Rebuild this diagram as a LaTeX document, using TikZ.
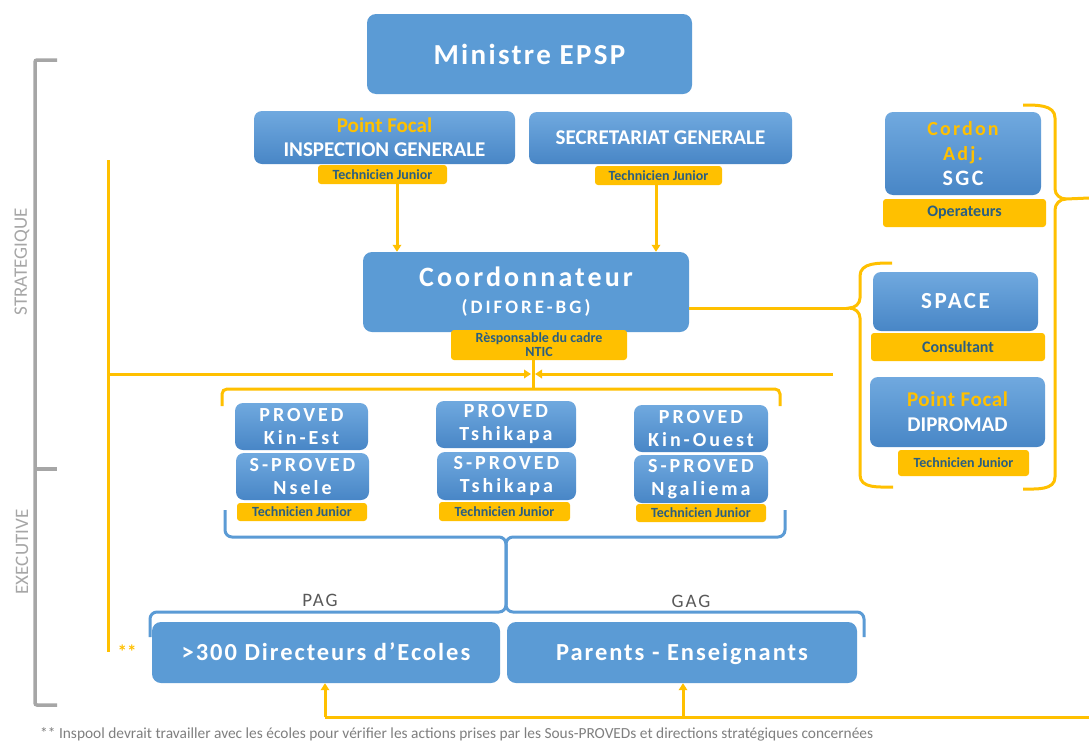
\documentclass[tikz,border=0pt]{standalone}
\usepackage{fontspec}
\setmainfont{Carlito}
\newfontfamily\calfam{Carlito}
\newcommand\lsp[1]{\addfontfeatures{LetterSpace=#1}}
\newcommand\fs[2]{\fontsize{#1}{#2}\selectfont}
\usetikzlibrary{arrows.meta}
\definecolor{bl}{HTML}{5B9BD5}
\definecolor{blT}{HTML}{70A9DF}
\definecolor{blB}{HTML}{4886C6}
\definecolor{yl}{HTML}{FFC000}
\definecolor{tagtxt}{HTML}{2A5E80}
\definecolor{gr}{HTML}{A6A6A6}
\definecolor{grtxt}{HTML}{595959}
\definecolor{foot}{HTML}{7F7F7F}
\begin{document}
\begin{tikzpicture}[x=1pt,y=-1pt,
  flatbox/.style={rounded corners=9pt, fill=bl, text=white, inner sep=0pt, align=center},
  gradbox/.style={rounded corners=8pt, top color=blT, bottom color=blB, draw=none, text=white, inner sep=0pt, align=center},
  tagbox/.style={rounded corners=3pt, fill=yl, text=tagtxt, inner sep=0pt, align=center, font=\calfam\bfseries\fs{14}{14}},
  bigtag/.style={tagbox, font=\calfam\bfseries\fs{16}{16}},
  yline/.style={draw=yl, line width=3pt},
  yarr/.style={yline, -{Triangle[length=7pt,width=8.5pt]}},
  bline/.style={draw=bl, line width=3pt},
  gline/.style={draw=gr, line width=3.5pt},
  provedfont/.style={font=\calfam\bfseries\fs{20}{23}\lsp{15}},
  bottomtext/.style={font=\calfam\bfseries\fs{24.5}{26}\lsp{8}, text height=18pt, text depth=2pt},
]
\useasboundingbox (0,0) rectangle (1089,742);
\fill[white] (0,0) rectangle (1089,742);

% left gray bracket
\draw[gline, rounded corners=2pt] (57,60) -- (35,60) -- (35,705) -- (57,705);
\draw[gline] (35,469) -- (57,469);
\node[rotate=90, text=gr, font=\calfam\fs{19}{19}] (strat) at (22,262) {STRATEGIQUE};
\node[rotate=90, text=gr, font=\calfam\fs{19}{19}] (exec) at (22,552) {EXECUTIVE};

% top boxes
\node[flatbox, minimum width=325pt, minimum height=80pt, font=\calfam\bfseries\fs{29}{32}\lsp{8}] (min) at (529.5,54) {Ministre EPSP};
\node[gradbox, minimum width=261pt, minimum height=53pt, font=\calfam\bfseries\fs{21}{24}] (ig) at (384.5,137.5) {\textcolor{yl}{Point Focal}\\INSPECTION GENERALE};
\node[tagbox, minimum width=129pt, minimum height=19pt] (igtag) at (382.5,174.5) {Technicien Junior};
\node[gradbox, minimum width=263pt, minimum height=52pt, font=\calfam\bfseries\fs{21}{24}] (sg) at (660.5,138) {SECRETARIAT GENERALE};
\node[tagbox, minimum width=127pt, minimum height=19pt] (sgtag) at (658.5,175.5) {Technicien Junior};

% coordonnateur
\node[flatbox, minimum width=326pt, minimum height=80pt, font=\calfam\bfseries\fs{28}{27}] (coord) at (526,292)
  {{\lsp{11}Coordonnateur}\\{\fs{19}{27}\lsp{16}(DIFORE-BG)}};
\node[tagbox, minimum width=176pt, minimum height=30pt] (coordtag) at (539,345) {Rèsponsable du cadre\\NTIC};

% right column
\node[gradbox, minimum width=156pt, minimum height=83pt, font=\calfam\bfseries\fs{20}{25}\lsp{11}] (sgc) at (963,153.5)
  {\textcolor{yl}{Cordon}\\\textcolor{yl}{Adj.}\\{\fs{22}{25}SGC}};
\node[bigtag, minimum width=163pt, minimum height=28pt] (optag) at (964.5,213) {Operateurs};
\node[gradbox, minimum width=165pt, minimum height=59pt, font=\calfam\bfseries\fs{23}{25}\lsp{11}] (space) at (955.5,301.5) {SPACE};
\node[bigtag, minimum width=174pt, minimum height=28pt] (constag) at (958,347) {Consultant};
\node[gradbox, minimum width=175pt, minimum height=70pt, font=\calfam\bfseries\fs{21}{25}] (dip) at (957.5,412)
  {\textcolor{yl}{\lsp{3}Point Focal}\\DIPROMAD};
\node[tagbox, minimum width=131pt, minimum height=26pt] (diptag) at (963.5,463) {Technicien Junior};

% PROVED boxes
\node[gradbox, provedfont, minimum width=133pt, minimum height=47pt] (p1) at (301.5,426.5) {PROVED\\Kin-Est};
\node[gradbox, provedfont, minimum width=133pt, minimum height=47pt] (s1) at (302.5,476.5) {S-PROVED\\Nsele};
\node[tagbox, minimum width=130pt, minimum height=18pt] (t1) at (302,512) {Technicien Junior};
\node[gradbox, provedfont, minimum width=140pt, minimum height=47pt] (p2) at (506,424.5) {PROVED\\Tshikapa};
\node[gradbox, provedfont, minimum width=139pt, minimum height=48pt] (s2) at (506.5,476) {S-PROVED\\Tshikapa};
\node[tagbox, minimum width=131pt, minimum height=19pt] (t2) at (504.5,511.5) {Technicien Junior};
\node[gradbox, provedfont, minimum width=134pt, minimum height=47pt] (p3) at (701,428.5) {PROVED\\Kin-Ouest};
\node[gradbox, provedfont, minimum width=134pt, minimum height=48pt] (s3) at (701,479) {S-PROVED\\Ngaliema};
\node[tagbox, minimum width=130pt, minimum height=18pt] (t3) at (701,513) {Technicien Junior};

% bottom boxes
\node[flatbox, bottomtext, minimum width=348pt, minimum height=61pt] (dir) at (326,652.5) {>300 Directeurs d’Ecoles};
\node[flatbox, bottomtext, minimum width=350pt, minimum height=61pt] (par) at (682,652.5) {Parents - Enseignants};
\node[text=grtxt, font=\calfam\fs{19}{19}\lsp{10}] (pag) at (320,600) {PAG};
\node[text=grtxt, font=\calfam\fs{19}{19}\lsp{10}] (gag) at (691,601) {GAG};

% coordinates
\coordinate (ax1) at (397,0);
\coordinate (ax2) at (656,0);
\coordinate (lt) at (108,160);
\coordinate (lb) at (108,652);
\coordinate (lj) at (108,374);
\coordinate (hub) at (533,374);
\coordinate (rfree) at (833,374);
\coordinate (brtop) at (533,389);
\coordinate (sptip) at (849,308);
\coordinate (re) at (1089,717);
\coordinate (b1) at (325,717);
\coordinate (b2) at (683,717);

% yellow connectors
\draw[yarr] (igtag.south -| ax1) -- (coord.north -| ax1);
\draw[yarr] (sgtag.south -| ax2) -- (coord.north -| ax2);
\draw[yline] (lt) -- (lb);
\draw[yarr, shorten >=2pt] (lj) -- (hub);
\draw[yarr, shorten >=2pt] (rfree) -- (hub);
\draw[yline] (coordtag.south -| hub) -- (brtop);
\draw[yline, rounded corners=5pt] (222,406) -- (222,389) -- (780,389) -- (780,406);
\draw[yline] (sptip -| coord.east) -- (sptip);
\draw[yline] (892,263) to[out=180,in=90] (860,276) -- (860,298) to[out=-90,in=0] (849,308)
  to[out=0,in=90] (860,318) -- (860,475) to[out=-90,in=180] (893,487);
\draw[yline] (1023,105) to[out=0,in=90] (1055,118) -- (1055,189) to[out=-90,in=180] (1066,199) -- (1089,198);
\draw[yline] (1066,199) to[out=180,in=90] (1055,210) -- (1055,477) to[out=-90,in=0] (1023,489);
\draw[yline] (re) -- (b1);
\draw[yarr] (b1) -- (b1 |- dir.south);
\draw[yarr] (b2) -- (b2 |- par.south);
\node[text=yl, font=\calfam\bfseries\fs{19}{19}] (stars) at (127,652) {**};

% blue braces
\draw[bline, rounded corners=7pt] (225,510) -- (225,537) -- (506,537) -- (506,612) -- (150,612) -- (150,637);
\draw[bline, rounded corners=7pt] (785,510) -- (785,537) -- (506,537) -- (506,612) -- (864,612) -- (864,637);

% footnote
\node[anchor=west, text=foot, font=\calfam\fs{15.4}{16}, inner sep=0pt] (foot) at (40,734)
  {** Inspool devrait travailler avec les écoles pour vérifier les actions prises par les Sous-PROVEDs et directions stratégiques concernées};
\end{tikzpicture}
\end{document}
